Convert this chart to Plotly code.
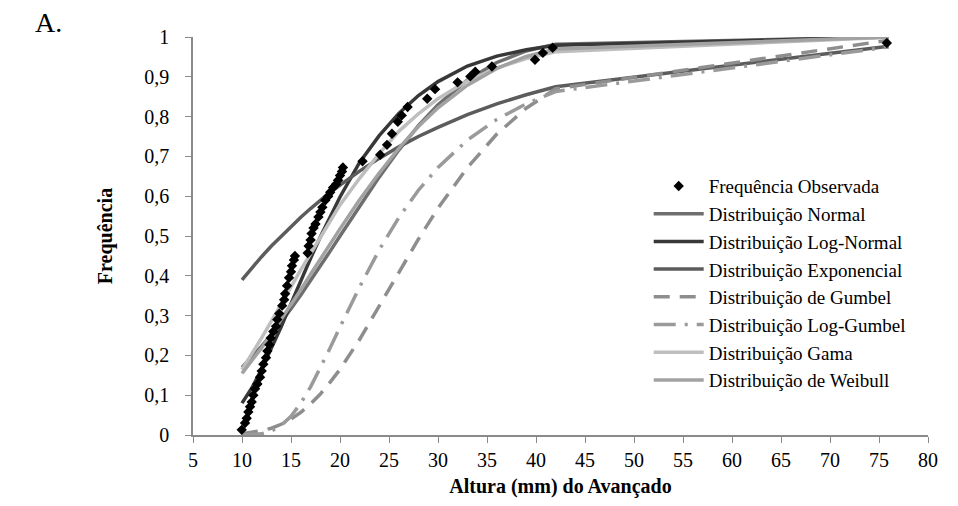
import plotly.graph_objects as go

# Observed cumulative frequency of the "avançado" height (mm)
obs_x = [9.97, 10.31, 10.48, 10.65, 10.82, 10.99, 11.16, 11.33, 11.57, 11.84,
         12.01, 12.18, 12.45, 12.59, 12.8, 12.93, 13.2, 13.47, 13.6, 13.8,
         14.1, 14.3, 14.4, 14.6, 14.8, 15.0, 15.1, 15.3, 15.4, 16.7,
         16.8, 17.0, 17.1, 17.3, 17.5, 17.8, 18.0, 18.2, 18.5, 18.8,
         19.0, 19.3, 19.6, 19.8, 20.0, 20.2, 20.3, 22.3, 24.1, 24.8,
         25.3, 25.9, 26.3, 26.9, 28.9, 29.7, 32.0, 33.3, 33.8, 35.5,
         39.9, 40.7, 41.7, 75.8]
obs_y = [0.013, 0.03, 0.042, 0.058, 0.071, 0.083, 0.1, 0.116, 0.128, 0.145,
         0.161, 0.178, 0.194, 0.211, 0.227, 0.244, 0.26, 0.273, 0.29, 0.305,
         0.325, 0.34, 0.355, 0.375, 0.395, 0.41, 0.425, 0.44, 0.45, 0.457,
         0.475, 0.49, 0.506, 0.52, 0.53, 0.548, 0.56, 0.572, 0.59, 0.6,
         0.61, 0.622, 0.63, 0.64, 0.652, 0.662, 0.672, 0.688, 0.704, 0.729,
         0.757, 0.787, 0.803, 0.824, 0.845, 0.869, 0.886, 0.901, 0.913, 0.926,
         0.943, 0.96, 0.973, 0.985]

# Heights at which the fitted distributions are evaluated
fit_x = [10, 11, 12, 13, 14, 15, 16, 17, 18, 19, 20,
         22, 24, 26, 28, 30, 33, 36, 39, 42, 76]

normal = [0.170, 0.196, 0.223, 0.252, 0.284, 0.317, 0.352, 0.388, 0.425, 0.462, 0.500,
          0.575, 0.648, 0.716, 0.777, 0.830, 0.892, 0.936, 0.965, 0.982, 1.000]
log_normal = [0.080, 0.118, 0.165, 0.217, 0.272, 0.330, 0.388, 0.444, 0.498, 0.550, 0.598,
              0.685, 0.752, 0.808, 0.853, 0.888, 0.927, 0.952, 0.968, 0.979, 0.9997]
exponencial = [0.390, 0.420, 0.448, 0.475, 0.500, 0.524, 0.547, 0.569, 0.590, 0.610, 0.628,
               0.663, 0.695, 0.724, 0.750, 0.773, 0.805, 0.832, 0.855, 0.875, 0.977]
gumbel = [0.003, 0.006, 0.011, 0.017, 0.027, 0.040, 0.057, 0.078, 0.103, 0.133, 0.165,
          0.240, 0.323, 0.408, 0.492, 0.570, 0.672, 0.756, 0.821, 0.870, 0.992]
log_gumbel = [0.000, 0.001, 0.003, 0.010, 0.024, 0.047, 0.080, 0.121, 0.168, 0.219, 0.271,
              0.372, 0.465, 0.546, 0.615, 0.672, 0.741, 0.793, 0.832, 0.863, 0.975]
gama = [0.164, 0.203, 0.244, 0.286, 0.330, 0.373, 0.415, 0.456, 0.497, 0.538, 0.578,
        0.645, 0.707, 0.763, 0.807, 0.845, 0.890, 0.922, 0.946, 0.963, 0.9995]
weibull = [0.155, 0.186, 0.219, 0.254, 0.290, 0.328, 0.365, 0.404, 0.442, 0.481, 0.518,
           0.591, 0.658, 0.720, 0.775, 0.822, 0.879, 0.921, 0.951, 0.970, 1.000]

x_ticks = list(range(5, 81, 5))
y_ticks = [round(0.1 * i, 1) for i in range(11)]

SERIF = "Liberation Serif"

fits = [
    ("Distribuição Normal", normal, "#6e6e6e", "solid"),
    ("Distribuição Log-Normal", log_normal, "#383838", "solid"),
    ("Distribuição Exponencial", exponencial, "#5c5c5c", "solid"),
    ("Distribuição de Gumbel", gumbel, "#8e8e8e", "16px,10px"),
    ("Distribuição Log-Gumbel", log_gumbel, "#9a9a9a", "22px,9px,3px,9px"),
    ("Distribuição Gama", gama, "#bebebe", "solid"),
    ("Distribuição de Weibull", weibull, "#a2a2a2", "solid"),
]

fig = go.Figure()
for rank, (name, vals, color, dash) in enumerate(fits, start=2):
    fig.add_trace(go.Scatter(
        x=fit_x, y=vals, mode="lines", name=name, legendrank=rank,
        line=dict(color=color, width=3.5, dash=dash),
    ))

fig.add_trace(go.Scatter(
    x=obs_x, y=obs_y, mode="markers", name="Frequência Observada", legendrank=1,
    marker=dict(symbol="diamond", size=8, color="black"),
))

axis_common = dict(
    showgrid=False, zeroline=False, showline=True, linecolor="#8a8a8a",
    linewidth=1.5, ticks="outside", tickcolor="#8a8a8a", ticklen=6,
    tickfont=dict(family=SERIF, size=20, color="black"),
)

fig.update_layout(
    width=958, height=506,
    margin=dict(l=193, r=30, t=37, b=64),
    paper_bgcolor="white", plot_bgcolor="white",
    separators=",.",
    font=dict(family=SERIF, color="black"),
    xaxis=dict(range=[5, 80], tickvals=x_ticks, **axis_common,
               title=dict(text="<b>Altura (mm) do Avançado</b>",
                          font=dict(family=SERIF, size=20), standoff=9)),
    yaxis=dict(range=[0, 1], tickvals=y_ticks, ticklabelstandoff=12, **axis_common,
               title=dict(text="<b>Frequência</b>",
                          font=dict(family=SERIF, size=20), standoff=26)),
    legend=dict(x=0.62, y=0.673, xanchor="left", yanchor="top",
                font=dict(family=SERIF, size=19, color="black"),
                bgcolor="rgba(0,0,0,0)", itemwidth=50, tracegroupgap=0),
    showlegend=True,
    annotations=[dict(text="A.", xref="paper", yref="paper", x=-0.218, y=1.037,
                      xanchor="left", yanchor="middle", showarrow=False,
                      font=dict(family=SERIF, size=28, color="black"))],
)

fig.write_html("out.html")
